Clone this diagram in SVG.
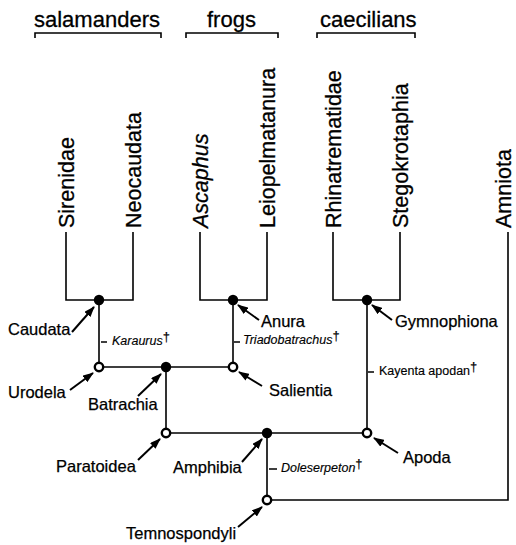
<svg xmlns="http://www.w3.org/2000/svg" width="516" height="545" viewBox="0 0 516 545">
<style>
text{font-family:"Liberation Sans",Arial,sans-serif;fill:#000}
.hd{font-size:22px;stroke:#000;stroke-width:0.3}
.tx{font-size:21.5px;stroke:#000;stroke-width:0.3}
.nl{font-size:16.5px;stroke:#000;stroke-width:0.25}
.sm{font-size:12.5px;stroke:#000;stroke-width:0.15}
.it{font-style:italic}
.dg{font-style:normal;font-size:13px}
.ln{fill:none;stroke:#000;stroke-width:1.6}
.tk{fill:none;stroke:#000;stroke-width:1.3}
.ar{fill:none;stroke:#000;stroke-width:2;marker-end:url(#ah)}
.fc{fill:#000}
.oc{fill:#fff;stroke:#000;stroke-width:2.4}
</style>
<defs>
<marker id="ah" viewBox="0 0 11 8" refX="10" refY="4" markerWidth="11" markerHeight="8" markerUnits="userSpaceOnUse" orient="auto">
<path d="M0,0 L11,4 L0,8 z" fill="#000"/>
</marker>
</defs>
<rect width="516" height="545" fill="#fff"/>

<g id="groups">
<text class="hd" x="34" y="27">salamanders</text>
<text class="hd" x="207" y="27">frogs</text>
<text class="hd" x="320" y="27">caecilians</text>
<path class="ln" d="M35,38 V33 H161 V38 M186,38 V33 H278 V38 M317,38 V33 H415 V38"/>
</g>

<g id="connectors">
<path class="ln" d="M66,232 V300 H133 V232"/>
<path class="ln" d="M200,232 V300 H267 V232"/>
<path class="ln" d="M333,232 V300 H400 V232"/>
<path class="ln" d="M99,300 V367 H233 V300"/>
<path class="ln" d="M166,367 V433 H367 V300"/>
<path class="ln" d="M267,433 V500 H508 V232"/>
</g>

<g id="taxa">
<text class="tx" transform="translate(74,228) rotate(-90)">Sirenidae</text>
<text class="tx" transform="translate(141,228) rotate(-90)">Neocaudata</text>
<text class="tx it" transform="translate(208,228) rotate(-90)">Ascaphus</text>
<text class="tx" transform="translate(275,228) rotate(-90)">Leiopelmatanura</text>
<text class="tx" transform="translate(341,228) rotate(-90)">Rhinatrematidae</text>
<text class="tx" transform="translate(408,228) rotate(-90)">Stegokrotaphia</text>
<text class="tx" transform="translate(511,228) rotate(-90)">Amniota</text>
</g>

<g id="caudata"><circle class="fc" cx="99" cy="300" r="5.2"/><path class="ar" d="M72,332 L94,307"/><text class="nl" x="8" y="335">Caudata</text></g>
<g id="anura"><circle class="fc" cx="233" cy="300" r="5.2"/><path class="ar" d="M259,320 L238,305"/><text class="nl" x="261" y="327">Anura</text></g>
<g id="gymnophiona"><circle class="fc" cx="367" cy="300" r="5.2"/><path class="ar" d="M392,320 L372,305"/><text class="nl" x="395" y="327">Gymnophiona</text></g>
<g id="urodela"><circle class="oc" cx="99" cy="367" r="4.2"/><path class="ar" d="M70,390 L93,373"/><text class="nl" x="8" y="398">Urodela</text></g>
<g id="batrachia"><circle class="fc" cx="166" cy="367" r="5.2"/><path class="ar" d="M138,396 L161,374"/><text class="nl" x="88" y="410">Batrachia</text></g>
<g id="salientia"><circle class="oc" cx="233" cy="367" r="4.2"/><path class="ar" d="M262,386 L239,372"/><text class="nl" x="269" y="396">Salientia</text></g>
<g id="paratoidea"><circle class="oc" cx="166" cy="433" r="4.2"/><path class="ar" d="M138,460 L160,439"/><text class="nl" x="56" y="472">Paratoidea</text></g>
<g id="amphibia"><circle class="fc" cx="267" cy="433" r="5.2"/><path class="ar" d="M242,462 L262,439"/><text class="nl" x="173" y="473">Amphibia</text></g>
<g id="apoda"><circle class="oc" cx="367" cy="433" r="4.2"/><path class="ar" d="M398,453 L374,438"/><text class="nl" x="403" y="463">Apoda</text></g>
<g id="temnospondyli"><circle class="oc" cx="267" cy="500" r="4.2"/><path class="ar" d="M238,527 L262,507"/><text class="nl" x="126" y="539">Temnospondyli</text></g>

<g id="fossils">
<path class="tk" d="M101,342 H107 M234,342 H240 M368,372 H374 M269,469 H277"/>
<text class="sm it" x="112" y="345">Karaurus<tspan class="dg" dy="-4">†</tspan></text>
<text class="sm it" x="243" y="344">Triadobatrachus<tspan class="dg" dy="-4">†</tspan></text>
<text class="sm" x="379" y="375">Kayenta apodan<tspan class="dg" dy="-4">†</tspan></text>
<text class="sm it" x="281" y="472">Doleserpeton<tspan class="dg" dy="-4">†</tspan></text>
</g>
</svg>
